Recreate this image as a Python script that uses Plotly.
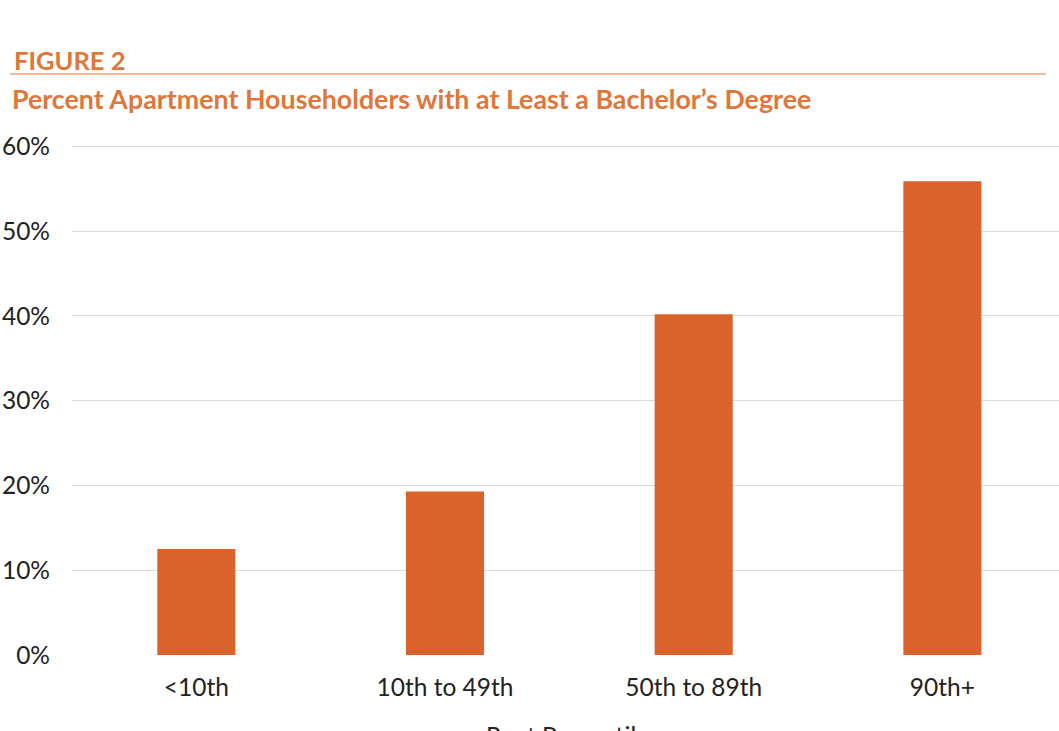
import plotly.graph_objects as go

categories = ["<10th", "10th to 49th", "50th to 89th", "90th+"]
values = [12.5, 19.3, 40.2, 55.9]
y_ticks = [0, 10, 20, 30, 40, 50, 60]
y_ticklabels = ["0%", "10%", "20%", "30%", "40%", "50%", "60%"]

W, H = 1059, 731
ML, MR, MT, MB = 72, 0, 138, 76
PW = W - ML - MR
PH = H - MT - MB


def px_x(px):
    return (px - ML) / PW


def px_y(py):
    return (H - MB - py) / PH


BAR = "#D9632B"
TITLE = "#E0763A"
FONT = "Lato"
TS = 24.5

fig = go.Figure(go.Bar(x=categories, y=values, marker=dict(color=BAR, line=dict(width=0)),
                       width=0.314))

fig.update_layout(
    width=W, height=H,
    margin=dict(l=ML, r=MR, t=MT, b=MB, autoexpand=False),
    plot_bgcolor="white", paper_bgcolor="white",
    font=dict(family=FONT, color="#222222", size=TS),
    showlegend=False,
    xaxis=dict(range=[-0.5, 3.469], showgrid=False, zeroline=False, showline=False,
               automargin=False,
               ticks="", tickfont=dict(size=TS, color="#222222"), ticklabelstandoff=15),
    yaxis=dict(range=[0, 61], tickvals=y_ticks, ticktext=y_ticklabels,
               showgrid=True, gridcolor="#DCDCDC", gridwidth=1, zeroline=False,
               automargin=False,
               showline=False, ticks="", ticklabelstandoff=21,
               tickfont=dict(size=TS, color="#222222")),
    annotations=[
        dict(text="<b>FIGURE 2</b>", xref="paper", yref="paper", x=px_x(12), y=px_y(60),
             xanchor="left", yanchor="middle", showarrow=False,
             font=dict(family=FONT, size=25.5, color=TITLE)),
        dict(text="<b>Percent Apartment Householders with at Least a Bachelor’s Degree</b>",
             xref="paper", yref="paper", x=px_x(10), y=px_y(99),
             xanchor="left", yanchor="middle", showarrow=False,
             font=dict(family=FONT, size=26.8, color=TITLE)),
        dict(text="Rent Percentile", xref="paper", yref="paper", x=px_x(567), y=px_y(719),
             xanchor="center", yanchor="top", showarrow=False,
             font=dict(family=FONT, size=TS, color="#222222")),
    ],
    shapes=[
        dict(type="line", xref="paper", yref="paper", x0=px_x(10), x1=px_x(1046),
             y0=px_y(74), y1=px_y(74), line=dict(color="#EFA27A", width=1.5)),
    ],
)

fig.write_html("out.html")
